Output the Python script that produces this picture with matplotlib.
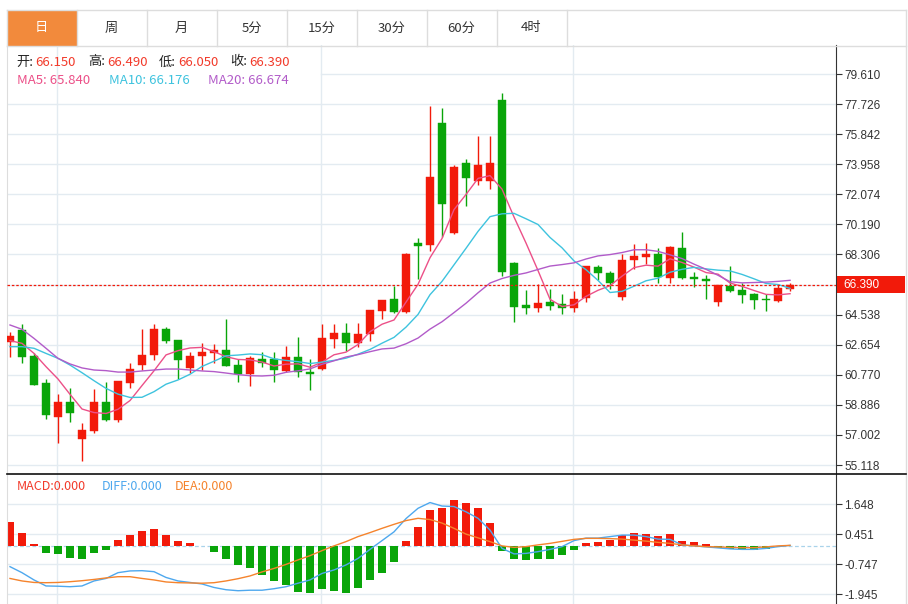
import numpy as np
import pandas as pd
import matplotlib
matplotlib.use('Agg')
import matplotlib.pyplot as plt
from matplotlib.patches import Rectangle

plt.rcParams['font.family'] = ['Noto Sans CJK SC', 'DejaVu Sans']

# ---- data ----
tabs = ['日', '周', '月', '5分', '15分', '30分', '60分', '4时']

opens = [62.84, 63.58, 61.97, 60.23, 58.15, 59.04, 56.77, 57.27, 59.04, 57.94,
         60.26, 61.38, 62.01, 63.66, 62.95, 61.22, 61.97, 62.16, 62.32, 61.38,
         60.82, 61.76, 61.74, 61.03, 61.88, 60.97, 61.11, 63.03, 63.39, 62.74,
         63.35, 64.79, 65.50, 64.72, 69.05, 68.88, 76.56, 69.63, 74.02, 72.93,
         72.93, 77.98, 67.77, 65.14, 64.97, 65.31, 65.18, 64.97, 65.56, 67.54,
         67.17, 65.66, 67.94, 68.17, 68.34, 66.81, 68.71, 66.90, 66.79, 65.35,
         66.33, 66.08, 65.81, 65.54, 65.41, 66.15]
highs = [63.43, 63.95, 62.11, 60.49, 59.57, 59.92, 57.77, 59.88, 60.30, 60.38,
         61.49, 63.66, 63.95, 63.74, 62.97, 62.22, 62.74, 62.68, 64.24, 61.78,
         61.97, 62.18, 62.18, 62.57, 63.12, 61.74, 63.93, 63.93, 63.99, 64.01,
         64.83, 65.45, 66.33, 68.38, 69.34, 77.61, 77.50, 73.91, 74.29, 75.75,
         75.75, 78.40, 67.86, 66.08, 66.44, 66.14, 65.85, 66.04, 67.60, 67.65,
         67.27, 68.34, 68.96, 69.00, 68.69, 68.84, 69.71, 67.19, 67.04, 66.39,
         67.58, 66.50, 65.87, 65.81, 66.44, 66.49]
lows = [61.86, 61.53, 60.10, 57.98, 56.48, 57.81, 55.39, 57.10, 57.90, 57.81,
        59.96, 61.07, 61.70, 62.78, 60.53, 60.86, 61.07, 61.53, 61.32, 60.32,
        60.07, 61.28, 60.32, 60.94, 60.61, 59.82, 61.07, 62.47, 62.26, 62.53,
        62.91, 64.24, 64.66, 64.66, 66.77, 68.52, 69.42, 69.59, 71.34, 72.66,
        72.39, 66.96, 64.06, 64.56, 64.72, 64.83, 64.56, 64.72, 65.31, 66.71,
        66.12, 65.45, 67.38, 67.69, 66.54, 66.54, 66.75, 66.25, 65.50, 65.08,
        65.98, 65.29, 64.87, 64.77, 65.35, 66.05]
closes = [63.20, 61.91, 60.15, 58.23, 59.04, 58.40, 57.31, 59.04, 57.94, 60.36,
          61.13, 62.01, 63.66, 62.91, 61.70, 61.97, 62.20, 62.32, 61.34, 60.82,
          61.84, 61.53, 61.07, 61.91, 60.92, 60.80, 63.10, 63.39, 62.74, 63.30,
          64.83, 65.43, 64.72, 68.34, 68.86, 73.18, 71.45, 73.76, 73.08, 73.89,
          74.06, 67.21, 65.02, 64.93, 65.27, 65.06, 64.97, 65.54, 67.58, 67.17,
          66.50, 67.96, 68.21, 68.34, 66.87, 68.80, 66.81, 66.75, 66.64, 66.37,
          66.02, 65.77, 65.45, 65.43, 66.21, 66.39]

# moving averages before enough bars are on screen
ma5_head = [62.91, 62.74, 62.11, 61.28]
ma10_head = [62.53, 62.53, 62.43, 62.11, 61.80, 61.38, 60.90, 60.40, 59.92]
ma20_head = [63.89, 63.62, 63.05, 62.43, 61.80, 61.45, 61.20, 61.07, 61.03, 60.94,
             60.94, 61.01, 61.07, 61.13, 61.13, 61.07, 61.01, 60.97, 60.88]

macd_hist = [0.94, 0.51, 0.06, -0.28, -0.32, -0.49, -0.53, -0.28, -0.19, 0.23,
             0.42, 0.58, 0.66, 0.42, 0.20, 0.12, -0.03, -0.25, -0.55, -0.77,
             -0.89, -1.16, -1.41, -1.57, -1.84, -1.88, -1.73, -1.81, -1.89, -1.70,
             -1.37, -1.08, -0.65, 0.17, 0.73, 1.42, 1.51, 1.82, 1.70, 1.50,
             0.89, -0.21, -0.55, -0.57, -0.55, -0.52, -0.39, -0.16, 0.12, 0.15,
             0.21, 0.44, 0.52, 0.48, 0.37, 0.48, 0.20, 0.15, 0.07, -0.08,
             -0.12, -0.13, -0.19, -0.12, 0.0, 0.0]
diff = [-0.84, -1.08, -1.37, -1.61, -1.62, -1.64, -1.61, -1.41, -1.31, -1.08,
        -1.01, -1.00, -1.04, -1.27, -1.41, -1.47, -1.53, -1.67, -1.76, -1.80,
        -1.78, -1.78, -1.72, -1.64, -1.50, -1.37, -1.11, -0.97, -0.77, -0.51,
        -0.15, 0.20, 0.55, 1.08, 1.49, 1.72, 1.58, 1.56, 1.35, 1.09,
        0.62, -0.11, -0.33, -0.31, -0.24, -0.15, -0.04, 0.20, 0.30, 0.30,
        0.36, 0.42, 0.42, 0.36, 0.26, 0.25, 0.03, -0.01, -0.05, -0.09,
        -0.13, -0.15, -0.15, -0.11, -0.04, 0.01]
dea = [-1.31, -1.41, -1.47, -1.48, -1.47, -1.44, -1.40, -1.35, -1.29, -1.24,
       -1.24, -1.31, -1.37, -1.45, -1.48, -1.49, -1.50, -1.48, -1.41, -1.32,
       -1.21, -1.05, -0.91, -0.75, -0.57, -0.40, -0.20, -0.01, 0.16, 0.36,
       0.52, 0.69, 0.85, 1.00, 1.09, 1.04, 0.90, 0.69, 0.46, 0.31,
       0.16, -0.01, -0.07, -0.04, 0.03, 0.09, 0.17, 0.25, 0.29, 0.29,
       0.28, 0.26, 0.22, 0.18, 0.13, 0.09, 0.03, -0.01, -0.04, -0.05,
       -0.07, -0.08, -0.08, -0.05, -0.01, 0.01]

price_ticks = [55.118, 57.002, 58.886, 60.770, 62.654, 64.538, 66.422,
               68.306, 70.190, 72.074, 73.958, 75.842, 77.726, 79.610]
macd_ticks = [-1.945, -0.747, 0.451, 1.648]
last_price = 66.390
date_lines = [3.92, 25.92, 46.92]

# ---- styles ----
UP = '#F21A0A'
DOWN = '#09A509'
GRID = '#E3EBF1'
BORDER = '#DDDDDD'
C_MA5, C_MA10, C_MA20 = '#EC5088', '#3EC3DE', '#B25BC9'
C_DIFF, C_DEA = '#4EA8EE', '#F5832C'

df = pd.DataFrame({'open': opens, 'high': highs, 'low': lows, 'close': closes})
ma5 = df.close.rolling(5).mean().values
ma10 = df.close.rolling(10).mean().values
ma20 = df.close.rolling(20).mean().values
ma5[:len(ma5_head)] = ma5_head
ma10[:len(ma10_head)] = ma10_head
ma20[:len(ma20_head)] = ma20_head
idx = np.arange(len(df))

W, H = 908, 604
fig = plt.figure(figsize=(W / 100, H / 100), dpi=100)
L, R, TOP, SEP = 7, 836, 45, 474
ax1 = fig.add_axes([L / W, (H - SEP) / H, (R - L) / W, (SEP - TOP) / H])
ax2 = fig.add_axes([L / W, 0, (R - L) / W, (H - SEP) / H])
xlim = (-0.25, 68.83)

# ---- price panel ----
ax1.set_xlim(*xlim)
ax1.set_ylim(54.555, 81.43)
for t in price_ticks:
    if t == price_ticks[-1]:
        ax1.axhline(t, xmin=(321 - L) / (R - L), color=GRID, lw=1, zorder=0)
    else:
        ax1.axhline(t, color=GRID, lw=1, zorder=0)
for x in date_lines:
    ax1.axvline(x, color=GRID, lw=1, zorder=0)

for i, r in df.iterrows():
    col = UP if r.close >= r.open else DOWN
    ax1.vlines(i, r.low, r.high, color=col, lw=1, zorder=2)
    h = max(abs(r.close - r.open), 0.06)
    ax1.bar(i, h, bottom=min(r.open, r.close), width=0.66, color=col,
            edgecolor=col, lw=0.3, zorder=3)

ax1.plot(idx, ma5, color=C_MA5, lw=1, zorder=4)
ax1.plot(idx, ma10, color=C_MA10, lw=1, zorder=4)
ax1.plot(idx, ma20, color=C_MA20, lw=1, zorder=4)
ax1.axhline(last_price, color=UP, lw=0.9, ls=(0, (2, 1.5)), zorder=5)

ax1.yaxis.tick_right()
ax1.set_yticks(price_ticks)
ax1.set_yticklabels(['' if abs(t - 66.422) < 1e-6 else f'{t:.3f}' for t in price_ticks],
                    family='Liberation Sans', fontsize=8.5, color='#333333')
ax1.tick_params(axis='y', length=4, width=0.8, color='#333333', pad=2)
ax1.set_xticks([])
for s in ['top', 'bottom']:
    ax1.spines[s].set_visible(False)
ax1.spines['left'].set_color(BORDER)
ax1.spines['right'].set_color('#333333')

# ---- MACD panel ----
ax2.set_xlim(*xlim)
ax2.set_ylim(-2.33, 2.859)
for t in macd_ticks:
    ax2.axhline(t, color=GRID, lw=1, zorder=0)
for x in date_lines:
    ax2.axvline(x, color=GRID, lw=1, zorder=0)
ax2.plot([xlim[0], xlim[1]], [0, 0], color='#A9D3EA', lw=0.9, ls=(0, (3, 2)), zorder=1)
hist_cols = [UP if v > 0 else DOWN for v in macd_hist]
ax2.bar(idx, macd_hist, width=0.68, color=hist_cols, zorder=2)
ax2.plot(idx, diff, color=C_DIFF, lw=1, zorder=3)
ax2.plot(idx, dea, color=C_DEA, lw=1, zorder=3)
ax2.yaxis.tick_right()
ax2.set_yticks(macd_ticks)
ax2.set_yticklabels([f'{t:.3f}' for t in macd_ticks], family='Liberation Sans',
                    fontsize=8.5, color='#333333')
ax2.tick_params(axis='y', length=4, width=0.8, color='#333333', pad=2)
ax2.set_xticks([])
for s in ['top', 'bottom']:
    ax2.spines[s].set_visible(False)
ax2.spines['left'].set_color(BORDER)
ax2.spines['right'].set_color('#333333')

# ---- overlay: tabs, legends, price tag ----
ov = fig.add_axes([0, 0, 1, 1])
ov.set_xlim(0, W)
ov.set_ylim(H, 0)
ov.axis('off')

ov.plot([6.5, 905.5], [9.5, 9.5], color=BORDER, lw=1)
ov.plot([6.5, 905.5], [45.5, 45.5], color=BORDER, lw=1)
ov.plot([905.5, 905.5], [9.5, H], color=BORDER, lw=1)
ov.plot([6.5, 6.5], [9.5, 45.5], color=BORDER, lw=1)
tab_w = 70
for k, name in enumerate(tabs):
    x0 = 6.5 + k * tab_w
    if k == 0:
        ov.add_patch(Rectangle((x0, 9.5), tab_w, 36, facecolor='#F28A3C', edgecolor='none'))
    ov.plot([x0 + tab_w, x0 + tab_w], [9.5, 45.5], color=BORDER, lw=1)
    ov.text(x0 + tab_w / 2, 28, name, ha='center', va='center', fontsize=9.5,
            color='white' if k == 0 else '#333333')

ohlc = [('开:', '66.150', 16, 35), ('高:', '66.490', 88, 107),
        ('低:', '66.050', 159, 178), ('收:', '66.390', 230, 249)]
for lab, val, xl, xv in ohlc:
    ov.text(xl, 62, lab, ha='left', va='center', fontsize=9.5, color='#222222')
    ov.text(xv, 62, val, ha='left', va='center', fontsize=9.5, color='#F23A2A')
ov.text(17, 80, 'MA5: 65.840', ha='left', va='center', fontsize=9.5, color=C_MA5)
ov.text(109, 80, 'MA10: 66.176', ha='left', va='center', fontsize=9.5, color=C_MA10)
ov.text(208, 80, 'MA20: 66.674', ha='left', va='center', fontsize=9.5, color=C_MA20)

ov.plot([6.5, 905.5], [SEP, SEP], color='#111111', lw=1.2)
ov.text(17, 486, 'MACD:0.000', ha='left', va='center', fontsize=9, color='#F23A2A')
ov.text(102, 486, 'DIFF:0.000', ha='left', va='center', fontsize=9, color=C_DIFF)
ov.text(175, 486, 'DEA:0.000', ha='left', va='center', fontsize=9, color=C_DEA)

ov.add_patch(Rectangle((837, 276), 68, 17, facecolor=UP, edgecolor='none'))
ov.text(843, 284.5, f'{last_price:.3f}', ha='left', va='center', family='Liberation Sans',
        fontsize=8.5, color='white')

fig.savefig('out.png', dpi=100)
